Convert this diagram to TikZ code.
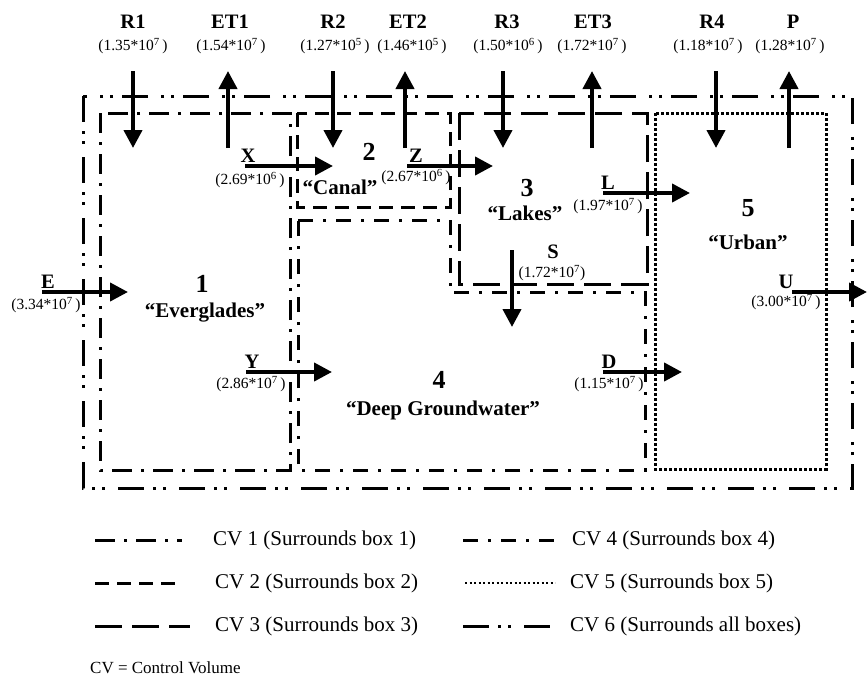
\documentclass[tikz,border=0pt]{standalone}
\usepackage{fontspec}
\setmainfont{Liberation Serif}
\usetikzlibrary{arrows.meta}
\begin{document}
\begin{tikzpicture}[x=1pt,y=-1pt,
 cvone/.style={line width=3pt, dash pattern=on 20pt off 9pt on 3pt off 9pt},
 cvtwo/.style={line width=3pt, dash pattern=on 14pt off 8pt},
 cvthree/.style={line width=3pt, dash pattern=on 27pt off 10pt},
 cvfour/.style={line width=3pt, dash pattern=on 15pt off 10pt on 3pt off 10pt},
 cvfive/.style={line width=3pt, dash pattern=on 2.7pt off 2.3pt},
 cvsix/.style={line width=3pt, dash pattern=on 26pt off 9pt on 3pt off 7pt on 3pt off 13pt},
 flow/.style={line width=4pt, -{Triangle[width=18pt,length=18pt]}},
 lab/.style={font=\fontsize{20.5}{20.5}\selectfont\bfseries, inner sep=0pt},
 val/.style={font=\fontsize{15.5}{15.5}\selectfont, inner sep=0pt},
 boxnum/.style={font=\fontsize{26}{26}\selectfont\bfseries, inner sep=0pt},
 boxname/.style={font=\fontsize{21}{21}\selectfont\bfseries, inner sep=0pt},
 legtext/.style={font=\fontsize{21}{21}\selectfont, inner sep=0pt, anchor=west},
]
\useasboundingbox (0,0) rectangle (867,680);

% control volumes
\draw[cvsix] (83,96) rectangle (852,488);
\draw[cvone] (100,113) rectangle (290,470);
\draw[cvtwo] (297,113) rectangle (450,207);
\draw[cvthree] (459,113) rectangle (647,284);
\draw[cvfour] (298,220) -- (450,220) -- (450,292) -- (645,292) -- (645,470) -- (298,470) -- cycle;
\draw[cvfive] (655,113) rectangle (826,469);

% top labels
\node[lab] (lR1) at (133,22) {R1};
\node[val] (vR1) at (133,46) {(1.35*10\textsuperscript{7}\,)};
\node[lab] (lET1) at (230,22) {ET1};
\node[val] (vET1) at (231,46) {(1.54*10\textsuperscript{7}\,)};
\node[lab] (lR2) at (333,22) {R2};
\node[val] (vR2) at (335,46) {(1.27*10\textsuperscript{5}\,)};
\node[lab] (lET2) at (408,22) {ET2};
\node[val] (vET2) at (412,46) {(1.46*10\textsuperscript{5}\,)};
\node[lab] (lR3) at (507,22) {R3};
\node[val] (vR3) at (508,46) {(1.50*10\textsuperscript{6}\,)};
\node[lab] (lET3) at (593,22) {ET3};
\node[val] (vET3) at (592,46) {(1.72*10\textsuperscript{7}\,)};
\node[lab] (lR4) at (712,22) {R4};
\node[val] (vR4) at (708,46) {(1.18*10\textsuperscript{7}\,)};
\node[lab] (lP) at (793,22) {P};
\node[val] (vP) at (790,46) {(1.28*10\textsuperscript{7}\,)};

% vertical arrow ends
\coordinate (r1a) at (133,71);  \coordinate (r1b) at (133,148);
\coordinate (e1a) at (228,148); \coordinate (e1b) at (228,71);
\coordinate (r2a) at (333,71);  \coordinate (r2b) at (333,148);
\coordinate (e2a) at (405,148); \coordinate (e2b) at (405,71);
\coordinate (r3a) at (503,71);  \coordinate (r3b) at (503,148);
\coordinate (e3a) at (592,148); \coordinate (e3b) at (592,71);
\coordinate (r4a) at (716,71);  \coordinate (r4b) at (716,148);
\coordinate (pa) at (789,148);  \coordinate (pb) at (789,71);
\coordinate (sa) at (512,250);  \coordinate (sb) at (512,327);

% horizontal arrow ends
\coordinate (ea) at (42,292);  \coordinate (eb) at (128,292);
\coordinate (xa) at (245,166); \coordinate (xb) at (333,166);
\coordinate (za) at (407,166); \coordinate (zb) at (493,166);
\coordinate (la) at (603,193); \coordinate (lb) at (690,193);
\coordinate (ya) at (246,372); \coordinate (yb) at (332,372);
\coordinate (da) at (603,372); \coordinate (db) at (682,372);
\coordinate (ua) at (792,292); \coordinate (ub) at (867,292);

\foreach \a/\b in {r1a/r1b,e1a/e1b,r2a/r2b,e2a/e2b,r3a/r3b,e3a/e3b,r4a/r4b,pa/pb,sa/sb,ea/eb,xa/xb,za/zb,la/lb,ya/yb,da/db,ua/ub}
  \draw[flow] (\a) -- (\b);

% flow labels
\node[lab, anchor=south] (lE) at (48,289) {E};
\node[val] (vE) at (46,305) {(3.34*10\textsuperscript{7}\,)};
\node[lab, anchor=south] (lX) at (248,163) {X};
\node[val] (vX) at (250,180) {(2.69*10\textsuperscript{6}\,)};
\node[lab, anchor=south] (lZ) at (416,163) {Z};
\node[val] (vZ) at (416,177) {(2.67*10\textsuperscript{6}\,)};
\node[lab, anchor=south] (lL) at (608,190) {L};
\node[val] (vL) at (608,206) {(1.97*10\textsuperscript{7}\,)};
\node[lab, anchor=south] (lY) at (252,369) {Y};
\node[val] (vY) at (251,384) {(2.86*10\textsuperscript{7}\,)};
\node[lab, anchor=south] (lD) at (609,369) {D};
\node[val] (vD) at (609,384) {(1.15*10\textsuperscript{7}\,)};
\node[lab, anchor=south] (lU) at (786,289) {U};
\node[val] (vU) at (786,302) {(3.00*10\textsuperscript{7}\,)};
\node[lab] (lS) at (553,252) {S};
\node[val] (vS) at (552,273) {(1.72*10\textsuperscript{7})};

% box titles
\node[boxnum] (n1) at (202,284) {1};
\node[boxname] (t1) at (205,313) {“Everglades”};
\node[boxnum] (n2) at (369,152) {2};
\node[boxname] (t2) at (340,187) {“Canal”};
\node[boxnum] (n3) at (527,188) {3};
\node[boxname] (t3) at (525,213) {“Lakes”};
\node[boxnum] (n4) at (439,380) {4};
\node[boxname] (t4) at (443,410) {“Deep Groundwater”};
\node[boxnum] (n5) at (748,208) {5};
\node[boxname] (t5) at (748,242) {“Urban”};

% legend
\coordinate (g1a) at (95,540);  \coordinate (g1b) at (182,540);
\coordinate (g2a) at (95,583);  \coordinate (g2b) at (182,583);
\coordinate (g3a) at (95,626);  \coordinate (g3b) at (190,626);
\coordinate (g4a) at (463,540); \coordinate (g4b) at (555,540);
\coordinate (g5a) at (465,583); \coordinate (g5b) at (555,583);
\coordinate (g6a) at (463,626); \coordinate (g6b) at (555,626);
\draw[cvone] (g1a) -- (g1b);
\draw[cvtwo] (g2a) -- (g2b);
\draw[cvthree] (g3a) -- (g3b);
\draw[cvfour] (g4a) -- (g4b);
\draw[line width=2.2pt, dash pattern=on 2pt off 2.5pt] (g5a) -- (g5b);
\draw[cvsix] (g6a) -- (g6b);
\node[legtext] (k1) at (213,540) {CV 1 (Surrounds box 1)};
\node[legtext] (k2) at (215,583) {CV 2 (Surrounds box 2)};
\node[legtext] (k3) at (215,626) {CV 3 (Surrounds box 3)};
\node[legtext] (k4) at (572,540) {CV 4 (Surrounds box 4)};
\node[legtext] (k5) at (570,583) {CV 5 (Surrounds box 5)};
\node[legtext] (k6) at (570,626) {CV 6 (Surrounds all boxes)};
\node[legtext, font=\fontsize{17}{17}\selectfont] (k7) at (90,668) {CV = Control Volume};
\end{tikzpicture}
\end{document}
